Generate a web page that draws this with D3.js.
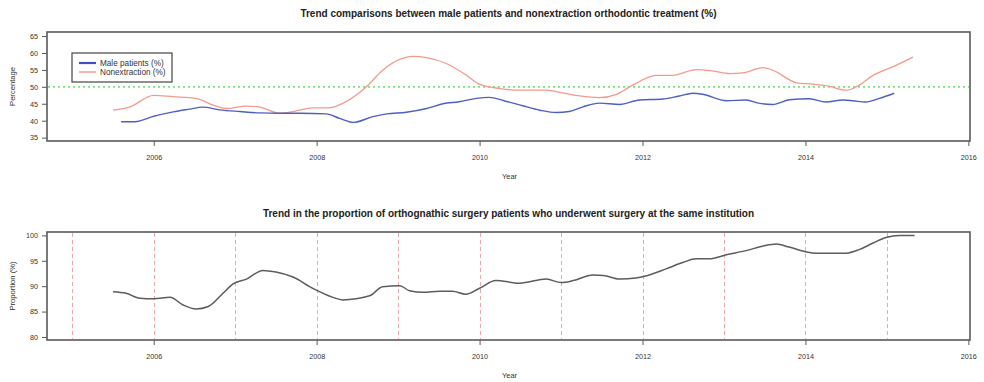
<!DOCTYPE html>
<html>
<head>
<meta charset="utf-8">
<script src="https://cdn.jsdelivr.net/npm/d3@7"></script>
<style>
  html, body { margin: 0; padding: 0; background: #fff; }
  svg { display: block; font-family: "Liberation Sans", Arial, sans-serif; }
</style>
</head>
<body>
<svg id="chart" width="984" height="382"></svg>
<script>
// Male patients (%) — year, value
const maleYears  = [2005.60, 2005.77, 2006.00, 2006.24, 2006.44, 2006.60, 2006.81, 2007.06, 2007.30, 2007.55, 2007.79, 2008.12, 2008.28, 2008.45, 2008.69, 2008.86, 2009.10, 2009.35, 2009.55, 2009.75, 2009.96, 2010.12, 2010.30, 2010.53, 2010.74, 2010.94, 2011.10, 2011.27, 2011.47, 2011.72, 2011.96, 2012.25, 2012.45, 2012.62, 2012.74, 2013.03, 2013.27, 2013.44, 2013.60, 2013.80, 2014.05, 2014.25, 2014.46, 2014.58, 2014.74, 2014.91, 2015.09];
const maleValues = [39.7, 39.7, 41.3, 42.6, 43.4, 44.0, 43.2, 42.7, 42.3, 42.2, 42.2, 42.0, 40.7, 39.5, 41.2, 42.0, 42.5, 43.6, 45.0, 45.6, 46.6, 46.9, 45.9, 44.4, 43.1, 42.4, 42.7, 44.1, 45.2, 44.8, 46.1, 46.4, 47.3, 48.1, 47.8, 45.9, 46.1, 45.1, 44.8, 46.2, 46.5, 45.5, 46.1, 45.9, 45.5, 46.6, 48.1];

// Nonextraction (%) — year, value
const nonextYears  = [2005.50, 2005.71, 2006.00, 2006.24, 2006.52, 2006.73, 2006.89, 2007.14, 2007.30, 2007.55, 2007.71, 2007.95, 2008.16, 2008.32, 2008.61, 2008.81, 2009.02, 2009.18, 2009.35, 2009.59, 2009.84, 2010.00, 2010.25, 2010.49, 2010.82, 2011.02, 2011.23, 2011.47, 2011.68, 2011.88, 2012.17, 2012.37, 2012.66, 2012.86, 2013.07, 2013.23, 2013.48, 2013.60, 2013.89, 2014.09, 2014.29, 2014.50, 2014.66, 2014.83, 2015.07, 2015.32];
const nonextValues = [43.1, 44.1, 47.5, 47.1, 46.6, 44.6, 43.6, 44.3, 44.0, 42.2, 42.7, 43.8, 43.8, 45.1, 50.0, 54.9, 58.1, 59.0, 58.6, 56.9, 53.4, 50.7, 49.5, 49.0, 49.0, 48.2, 47.3, 46.8, 47.8, 50.5, 53.4, 53.4, 55.1, 54.7, 53.9, 54.1, 55.7, 54.9, 51.2, 50.8, 50.2, 49.0, 50.5, 53.4, 55.9, 58.8];

// Proportion of orthognathic surgery patients operated at the same institution (%)
const sameYears  = [2005.50, 2005.66, 2005.83, 2006.00, 2006.20, 2006.36, 2006.52, 2006.67, 2006.85, 2006.97, 2007.14, 2007.34, 2007.50, 2007.71, 2007.95, 2008.20, 2008.32, 2008.65, 2008.81, 2009.02, 2009.14, 2009.31, 2009.51, 2009.67, 2009.83, 2010.00, 2010.20, 2010.49, 2010.82, 2011.00, 2011.15, 2011.39, 2011.52, 2011.72, 2011.92, 2012.04, 2012.29, 2012.50, 2012.66, 2012.82, 2013.03, 2013.27, 2013.48, 2013.64, 2013.80, 2014.00, 2014.13, 2014.50, 2014.66, 2014.83, 2014.99, 2015.15, 2015.34];
const sameValues = [88.9, 88.6, 87.6, 87.5, 87.8, 86.3, 85.5, 86.0, 88.6, 90.4, 91.4, 93.1, 92.8, 91.8, 89.6, 87.8, 87.3, 88.1, 89.9, 90.1, 89.1, 88.8, 89.0, 89.0, 88.4, 89.6, 91.1, 90.6, 91.4, 90.7, 91.1, 92.2, 92.1, 91.4, 91.6, 92.0, 93.4, 94.7, 95.4, 95.4, 96.2, 97.0, 97.9, 98.3, 97.7, 96.8, 96.5, 96.5, 97.2, 98.5, 99.6, 100.0, 100.0];

// Axis ticks, reference levels and labels
const xTicks = [2006, 2008, 2010, 2012, 2014, 2016];
const topYTicks = [35, 40, 45, 50, 55, 60, 65];
const bottomYTicks = [80, 85, 90, 95, 100];
const referenceLevel = [50];
const yearMarkers = [2005, 2006, 2007, 2008, 2009, 2010, 2011, 2012, 2013, 2014, 2015];
const legendLabels = ["Male patients (%)", "Nonextraction (%)"];
const titles = [
  "Trend comparisons between male patients and nonextraction orthodontic treatment (%)",
  "Trend in the proportion of orthognathic surgery patients who underwent surgery at the same institution"
];

const svg = d3.select("#chart");
const left = 47, right = 970;
const x = d3.scaleLinear().domain([2004.69, 2016.02]).range([left, right]);

const topPanel = { top: 32, bottom: 141 };
const botPanel = { top: 232, bottom: 340 };
const yTop = d3.scaleLinear().domain([34.0, 66.2]).range([topPanel.bottom, topPanel.top]);
const yBot = d3.scaleLinear().domain([79.4, 100.67]).range([botPanel.bottom, botPanel.top]);

const frameColor = "#5a5a5a";
const textColor = "#333";

function drawAxes(y, panel, yTicks, title, yLabel) {
  // x axis
  const gx = svg.append("g")
    .attr("transform", `translate(0,${panel.bottom})`)
    .call(d3.axisBottom(x).tickValues(xTicks).tickFormat(d3.format("d")).tickSize(5).tickPadding(9));
  // y axis
  const gy = svg.append("g")
    .attr("transform", `translate(${left},0)`)
    .call(d3.axisLeft(y).tickValues(yTicks).tickSize(5).tickPadding(4));
  [gx, gy].forEach(g => {
    g.select(".domain").remove();
    g.selectAll(".tick line").attr("stroke", frameColor).attr("stroke-width", 1);
    g.selectAll(".tick text").attr("fill", textColor).style("font-size", "7.2px");
  });
  // frame
  svg.append("rect")
    .attr("x", left).attr("y", panel.top)
    .attr("width", right - left).attr("height", panel.bottom - panel.top)
    .attr("fill", "none").attr("stroke", frameColor).attr("stroke-width", 1.6);
  // title
  svg.append("text")
    .attr("x", (left + right) / 2).attr("y", panel.top - 15.5)
    .attr("text-anchor", "middle").attr("fill", "#222")
    .style("font-size", "10px").style("font-weight", "bold")
    .text(title);
  // x label
  svg.append("text")
    .attr("x", (left + right) / 2 + 1).attr("y", panel.bottom + 38)
    .attr("text-anchor", "middle").attr("fill", textColor)
    .style("font-size", "7.5px")
    .text("Year");
  // y label
  svg.append("text")
    .attr("transform", `translate(15,${(panel.top + panel.bottom) / 2}) rotate(-90)`)
    .attr("text-anchor", "middle").attr("fill", textColor)
    .style("font-size", "7.6px")
    .text(yLabel);
}

drawAxes(yTop, topPanel, topYTicks, titles[0], "Percentage");
drawAxes(yBot, botPanel, bottomYTicks, titles[1], "Proportion (%)");

// --- top panel ---
svg.selectAll(".refline").data(referenceLevel).join("line")
  .attr("x1", left + 1).attr("x2", right - 1)
  .attr("y1", d => yTop(d)).attr("y2", d => yTop(d))
  .attr("stroke", "#7fe07f").attr("stroke-width", 1.6)
  .attr("stroke-dasharray", "2,3");

const lineOf = (xs, ys, y) => d3.line()
  .x((d, i) => x(xs[i])).y(d => y(d))
  .curve(d3.curveMonotoneX)(ys);

svg.append("path")
  .attr("d", lineOf(nonextYears, nonextValues, yTop))
  .attr("fill", "none").attr("stroke", "#f39a8c").attr("stroke-width", 1.3);

svg.append("path")
  .attr("d", lineOf(maleYears, maleValues, yTop))
  .attr("fill", "none").attr("stroke", "#4f5fc2").attr("stroke-width", 1.4);

// legend
const legend = svg.append("g").attr("transform", "translate(72,53)");
legend.append("rect").attr("width", 100).attr("height", 29)
  .attr("fill", "#fff").attr("stroke", "#444").attr("stroke-width", 1.2);
const legendColors = ["#3f4fbf", "#f39a8c"];
legendLabels.forEach((lab, i) => {
  legend.append("line")
    .attr("x1", 7).attr("x2", 24)
    .attr("y1", 10 + i * 9).attr("y2", 10 + i * 9)
    .attr("stroke", legendColors[i]).attr("stroke-width", i === 0 ? 2.2 : 1.4);
  legend.append("text")
    .attr("x", 28).attr("y", 12.8 + i * 9)
    .attr("fill", textColor).style("font-size", "8.2px")
    .text(lab);
});

// --- bottom panel ---
svg.selectAll(".yearmark").data(yearMarkers).join("line")
  .attr("x1", d => Math.round(x(d)) + 0.5).attr("x2", d => Math.round(x(d)) + 0.5)
  .attr("y1", botPanel.top + 1).attr("y2", botPanel.bottom - 1)
  .attr("stroke", "#f2a3a3").attr("stroke-width", 1)
  .attr("stroke-dasharray", "4,3");

svg.append("path")
  .attr("d", lineOf(sameYears, sameValues, yBot))
  .attr("fill", "none").attr("stroke", "#5c5c5c").attr("stroke-width", 1.5);
</script>
</body>
</html>
